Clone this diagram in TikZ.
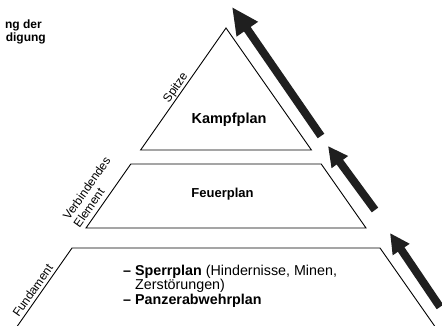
\documentclass[tikz,border=0pt]{standalone}
\usepackage{fontspec}
\setmainfont{Liberation Sans}
\usetikzlibrary{calc,arrows.meta}
\begin{document}
\begin{tikzpicture}[x=1pt,y=-1pt,
  slab/.style={draw=black,line width=0.9pt,line join=miter},
  bigarrow/.style={draw=black!88,line width=8pt,-{Triangle[width=19pt,length=20pt]}},
  toparrow/.style={bigarrow,-{Triangle[width=24pt,length=27pt]}},
  sidelabel/.style={font=\fontsize{12}{13}\selectfont,inner sep=0pt,anchor=base west,rotate=55,yshift=3.5pt},
  title/.style={font=\bfseries\fontsize{12}{13}\selectfont,inner sep=0pt,anchor=base east},
  plan/.style={font=\bfseries\fontsize{14}{15}\selectfont,inner sep=0pt,anchor=base}]
\useasboundingbox (0,0) rectangle (442,326);
\clip (0,0) rectangle (442,326);
% pyramid slices
\coordinate (apex) at (226,28);
\coordinate (t1) at (140.6,150);
\coordinate (t2) at (311.4,150);
\coordinate (m1) at (130.8,164);
\coordinate (m2) at (321.2,164);
\coordinate (m3) at (366,228);
\coordinate (m4) at (86,228);
\coordinate (b1) at (72,248);
\coordinate (b2) at (380,248);
\coordinate (b3) at (437.4,330);
\coordinate (b0) at (14.6,330);
\draw[slab] (apex) -- (t2) -- (t1) -- cycle;
\draw[slab] (m1) -- (m2) -- (m3) -- (m4) -- cycle;
\draw[slab] (b0) -- (b1) -- (b2) -- (b3);
% arrows
\coordinate (a1s) at (321,136);
\coordinate (a1e) at (232,7);
\coordinate (a2s) at (375,210);
\coordinate (a2e) at (328,146);
\coordinate (a3s) at (440,307);
\coordinate (a3e) at (390,233);
\draw[toparrow] (a1s) -- (a1e);
\draw[bigarrow] (a2s) -- (a2e);
\draw[bigarrow] (a3s) -- (a3e);
% title fragment
\node[title] (ti1) at (42,28.5) {ng der};
\node[title] (ti2) at (46,41.5) {digung};
% plan labels
\node[plan,font=\bfseries\fontsize{14.5}{15}\selectfont] (kampf) at (229,124) {Kampfplan};
\node[plan,font=\bfseries\fontsize{13}{14}\selectfont] (feuer) at (222.5,197) {Feuerplan};
\node[inner sep=0pt,anchor=base west,font=\fontsize{14.3}{14.5}\selectfont] (sperr) at (123,275)
  {\begin{tabular}[t]{@{}l@{\hspace{4pt}}l@{}}
   \textbf{–} & \textbf{Sperrplan} (Hindernisse, Minen,\\
   & Zerstörungen)\\
   \textbf{–} & \textbf{Panzerabwehrplan}
   \end{tabular}};
% side labels
\node[sidelabel] (spitze) at ($(apex)!94.7pt!(t1)$) {Spitze};
\node[sidelabel,yshift=1.5pt] (elem) at ($(m4)!-4pt!(m1)$) {Element};
\node[sidelabel,yshift=14.5pt] (verb) at ($(m4)!-4pt!(m1)$) {Verbindendes};
\node[sidelabel] (fund) at ($(b1)!88pt!(b0)$) {Fundament};
\end{tikzpicture}
\end{document}
